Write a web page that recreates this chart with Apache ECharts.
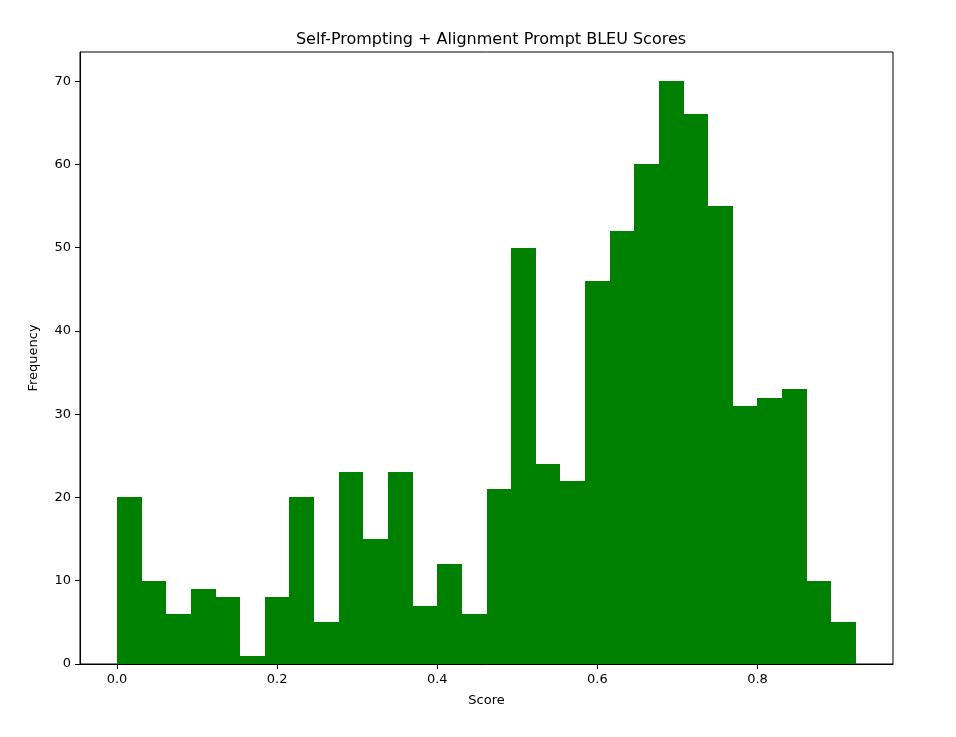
<!DOCTYPE html>
<html>
<head>
<meta charset="utf-8">
<script src="https://cdn.jsdelivr.net/npm/echarts@6/dist/echarts.min.js"></script>
<style>
  html, body { margin: 0; padding: 0; background: #fff; }
  #chart { width: 956px; height: 737px; }
</style>
</head>
<body>
<div id="chart"></div>
<script>
// histogram: 30 bins from 0 to ~0.923
const binStart = 0
const binEnd = 0.923
const counts = [20, 10, 6, 9, 8, 1, 8, 20, 5, 23, 15, 23, 7, 12, 6, 21, 50, 24, 22, 46, 52, 60, 70, 66, 55, 31, 32, 33, 10, 5]
const xTicks = [0.0, 0.2, 0.4, 0.6, 0.8]
const yTicks = [0, 10, 20, 30, 40, 50, 60, 70]

const binWidth = (binEnd - binStart) / counts.length
const bins = counts.map((c, i) => [binStart + i * binWidth, binStart + (i + 1) * binWidth, c])

const font = 'DejaVu Sans'
const chart = echarts.init(document.getElementById('chart'))

const option = {
  animation: false,
  title: {
    text: 'Self-Prompting + Alignment Prompt BLEU Scores',
    left: 486,
    top: 27,
    textAlign: 'center',
    textStyle: { fontFamily: font, fontSize: 16, fontWeight: 'normal', color: '#000' }
  },
  grid: { left: 80, right: 63, top: 52, bottom: 73, show: true, borderColor: '#000', borderWidth: 1 },
  xAxis: {
    type: 'value',
    min: -0.0462,
    max: 0.9692,
    name: 'Score',
    nameLocation: 'middle',
    nameGap: 30,
    nameTextStyle: { fontFamily: font, fontSize: 13, color: '#000' },
    axisLine: { show: true, onZero: false, lineStyle: { color: '#000' } },
    axisTick: { show: true, length: 5, lineStyle: { color: '#000' }, customValues: xTicks },
    axisLabel: { fontFamily: font, fontSize: 13, color: '#000', margin: 9, customValues: xTicks, formatter: v => v.toFixed(1) },
    splitLine: { show: false }
  },
  yAxis: {
    type: 'value',
    min: 0,
    max: 73.5,
    name: 'Frequency',
    nameLocation: 'middle',
    nameGap: 40,
    nameTextStyle: { fontFamily: font, fontSize: 13, color: '#000' },
    axisLine: { show: true, onZero: false, lineStyle: { color: '#000' } },
    axisTick: { show: true, length: 5, lineStyle: { color: '#000' }, customValues: yTicks },
    axisLabel: { fontFamily: font, fontSize: 13, color: '#000', margin: 9, customValues: yTicks },
    splitLine: { show: false }
  },
  series: [{
    type: 'custom',
    data: bins,
    encode: { x: [0, 1], y: 2 },
    renderItem: function (params, api) {
      const p0 = api.coord([api.value(0), 0])
      const p1 = api.coord([api.value(1), api.value(2)])
      // snap to whole pixels so neighbouring bars don't show seams
      const x0 = Math.round(p0[0]), x1 = Math.round(p1[0])
      const y0 = Math.round(p0[1]), y1 = Math.round(p1[1])
      return {
        type: 'rect',
        shape: { x: x0, y: y1, width: x1 - x0, height: y0 - y1 },
        style: { fill: '#008000' }
      }
    }
  }]
}

chart.setOption(option)
</script>
</body>
</html>
